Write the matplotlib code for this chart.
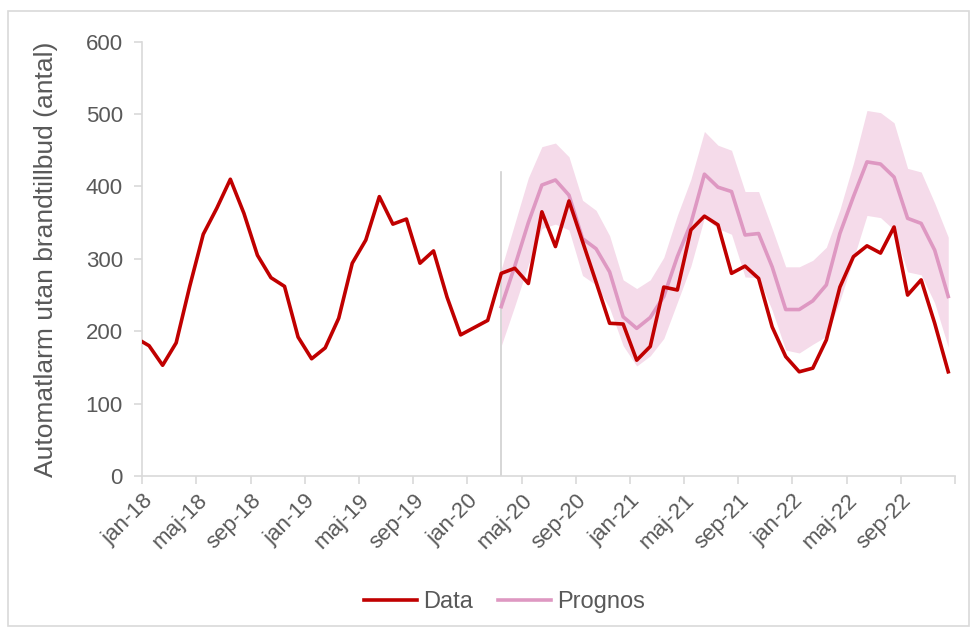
import matplotlib.pyplot as plt
from matplotlib.patches import Rectangle

plt.rcParams['font.family'] = ['Liberation Sans', 'DejaVu Sans']

# månadsvärden jan-18 .. dec-22 (dec-17 först, syns bara som en liten bit vid axeln)
dec17 = 191
data = [180, 153, 184, 262, 334, 370, 410, 363, 305, 274, 262, 192,
        162, 177, 218, 294, 326, 386, 348, 355, 294, 311, 247, 195,
        205, 215, 280, 287, 266, 365, 317, 380, 324, 268, 211, 210,
        160, 179, 261, 257, 340, 359, 347, 280, 290, 273, 206, 165,
        144, 149, 188, 261, 303, 318, 308, 344, 250, 271, 211, 144]

# prognos från mar-20 (index 26) till dec-22
prognos_start = 26
prognos = [234, 290, 350, 402, 409, 388, 328, 314, 282, 220, 204, 219,
           248, 303, 349, 417, 399, 393, 333, 335, 289, 230, 230, 242,
           264, 335, 386, 434, 431, 413, 356, 349, 312, 248]
prognos_hog = [286, 349, 412, 455, 460, 441, 381, 367, 332, 271, 259, 271,
               302, 360, 410, 476, 457, 450, 393, 393, 342, 289, 289, 298,
               316, 368, 432, 505, 502, 488, 425, 420, 377, 330]
prognos_lag = [180, 235, 292, 342, 348, 340, 277, 264, 232, 180, 152, 166,
               190, 240, 290, 357, 342, 334, 275, 274, 229, 174, 170, 182,
               193, 242, 300, 360, 357, 340, 282, 278, 239, 178]

tick_labels = ['jan-18', 'maj-18', 'sep-18', 'jan-19', 'maj-19', 'sep-19',
               'jan-20', 'maj-20', 'sep-20', 'jan-21', 'maj-21', 'sep-21',
               'jan-22', 'maj-22', 'sep-22']
linje_topp = 420

grey = '#595959'
axis_col = '#D9D9D9'

fig = plt.figure(figsize=(9.76, 6.32), dpi=100)
ax = fig.add_axes([0.1458, 0.2468, 0.8327, 0.6872])

x_data = [i + 0.5 for i in range(-1, len(data))]
x_prog = [prognos_start + i + 0.5 for i in range(len(prognos))]

ax.fill_between(x_prog, prognos_lag, prognos_hog, color='#F5DBEA', lw=0, zorder=1)
ax.plot([prognos_start + 0.5] * 2, [0, linje_topp], color='#D0D0D0', lw=1.2, zorder=2)
ax.plot(x_data, [dec17] + data, color='#C00000', lw=2.6, label='Data', zorder=4)
ax.plot(x_prog, prognos, color='#DE98C2', lw=2.6, label='Prognos', zorder=3)

ax.set_xlim(0, 60)
ax.set_ylim(0, 600)
ax.set_yticks(range(0, 601, 100))
ax.set_xticks(range(0, 61, 4))
ax.set_xticklabels(tick_labels + [''], rotation=45, ha='right', va='top',
                   rotation_mode='anchor')

for side in ['top', 'right']:
    ax.spines[side].set_visible(False)
for side in ['left', 'bottom']:
    ax.spines[side].set_color(axis_col)
    ax.spines[side].set_linewidth(1.2)

ax.tick_params(axis='both', colors=axis_col, labelcolor=grey, labelsize=16,
               length=6, width=1.2)
ax.tick_params(axis='x', pad=4)
ax.tick_params(axis='y', pad=8)

ax.set_ylabel('Automatlarm utan brandtillbud (antal)', fontsize=19, color=grey,
              labelpad=20)

leg = fig.legend(handles=ax.get_lines()[1:], loc='center',
                 bbox_to_anchor=(0.517, 0.047), ncol=2, frameon=False,
                 fontsize=17, handlelength=2.25, handletextpad=0.25,
                 columnspacing=1.05)
for t in leg.get_texts():
    t.set_color(grey)

fig.patches.append(Rectangle((8 / 976, 1 - 626 / 632), 961 / 976, 615 / 632,
                             transform=fig.transFigure, fill=False,
                             edgecolor=axis_col, lw=1.2))

fig.savefig('out.png', dpi=100)
